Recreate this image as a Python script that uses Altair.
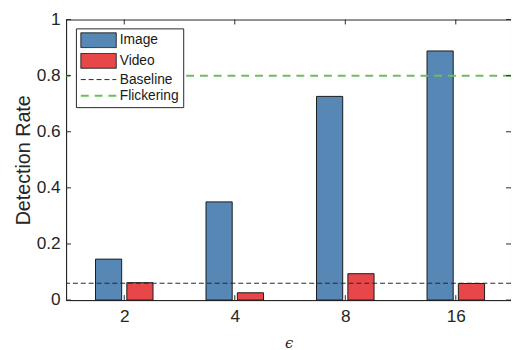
import json
import altair as alt
import pandas as pd

# ---------------- data ----------------
categories = ["2", "4", "8", "16"]
image_rate = [0.146, 0.350, 0.726, 0.888]
video_rate = [0.062, 0.026, 0.094, 0.059]
baseline_rate = [0.06]
flicker_rate = [0.80]
series_names = ["Image", "Video", "Baseline", "Flickering"]
fill_colors = ["#5787B4", "#E8474A", "transparent", "transparent"]
stroke_colors = ["#1a1a1a", "#1a1a1a", "#262626", "#6BBE5E"]
stroke_dashes = [[1, 0], [1, 0], [5, 3], [8, 6]]
stroke_widths = [1, 1, 1, 2]
legend_shapes = ["M-2.4,-1H2.4V1H-2.4Z", "M-2.4,-1H2.4V1H-2.4Z", "M-2.4,0H2.4", "M-2.4,0H2.4"]
y_ticks = [0, 0.2, 0.4, 0.6, 0.8, 1.0]

# ---------------- layout ----------------
W, H = 452, 285
TICK = 5
FONT = "Liberation Sans"
AX = "#262626"
idx = list(range(1, len(categories) + 1))
shift = {"Image": -0.1418, "Video": 0.1418}

bars = pd.DataFrame({
    "idx": idx * 2,
    "eps": categories * 2,
    "rate": image_rate + video_rate,
    "series": ["Image"] * len(categories) + ["Video"] * len(categories),
})
bars["pos"] = bars["idx"] + bars["series"].map(shift)
cat_df = pd.DataFrame({"idx": idx, "series": series_names})
ytick_df = pd.DataFrame({"rate": y_ticks})
base_df = pd.DataFrame({"rate": baseline_rate, "series": ["Baseline"]})
flk_df = pd.DataFrame({"rate": flicker_rate, "series": ["Flickering"]})

xscale = alt.Scale(domain=[0.518, 4.455], nice=False, zero=False)
yscale = alt.Scale(domain=[0, 1], nice=False)
label_expr = json.dumps(categories) + "[datum.value - 1]"

x_axis = alt.Axis(
    orient="bottom", values=idx, labelExpr=label_expr, tickSize=0,
    domain=True, domainColor=AX, grid=False, labelFont=FONT, labelFontSize=17.5,
    labelColor=AX, labelPadding=8, title="ϵ", titleFont="DejaVu Serif",
    titleFontSize=15, titleFontWeight="normal", titleFontStyle="italic",
    titleColor=AX, titlePadding=11)
y_axis = alt.Axis(
    orient="left", values=y_ticks, format="~g", tickSize=0, domain=True,
    domainColor=AX, grid=False, labelFont=FONT, labelFontSize=17.5, labelColor=AX,
    labelPadding=6, title="Detection Rate", titleFont=FONT, titleFontSize=20,
    titleFontWeight="normal", titleColor=AX, titlePadding=3)

legend = alt.Legend(
    orient="none", legendX=10, legendY=9, title=None, direction="vertical",
    strokeColor=AX, fillColor="white", padding=4, cornerRadius=0,
    labelFont=FONT, labelFontSize=14, labelColor="#1a1a1a",
    symbolSize=225, symbolOffset=10.5, labelOffset=13, rowPadding=1,
    symbolOpacity=1,
)
fill = alt.Fill("series:N", scale=alt.Scale(domain=series_names, range=fill_colors), legend=legend)
stroke = alt.Stroke("series:N", scale=alt.Scale(domain=series_names, range=stroke_colors), legend=legend)
dash = alt.StrokeDash("series:N", scale=alt.Scale(domain=series_names, range=stroke_dashes), legend=legend)
swidth = alt.StrokeWidth("series:N", scale=alt.Scale(type="ordinal", domain=series_names, range=stroke_widths), legend=legend)
shape = alt.Shape("series:N", scale=alt.Scale(domain=series_names, range=legend_shapes), legend=legend)


def X(field):
    return alt.X(field, scale=xscale, axis=x_axis)


def Y(field):
    return alt.Y(field, scale=yscale, axis=y_axis)


bar_layer = alt.Chart(bars).mark_bar(size=26.6).encode(
    x=X("pos:Q"), y=Y("rate:Q"),
    fill=fill, stroke=stroke, strokeWidth=swidth,
)

legend_shape_layer = alt.Chart(cat_df).mark_point(opacity=0).encode(
    x=X("idx:Q"), shape=shape,
)

base_layer = alt.Chart(base_df).mark_rule().encode(
    y=Y("rate:Q"), stroke=stroke, strokeDash=dash, strokeWidth=swidth,
)

flk_layer = alt.Chart(flk_df).mark_rule().encode(
    y=Y("rate:Q"), stroke=stroke, strokeDash=dash, strokeWidth=swidth,
)

# inward tick marks on all four sides (MATLAB box style)
tick_rule = dict(color=AX, strokeWidth=1)
left_ticks = alt.Chart(ytick_df).mark_rule(**tick_rule).encode(
    y=Y("rate:Q"), x=alt.value(0), x2=alt.value(TICK))
right_ticks = alt.Chart(ytick_df).mark_rule(**tick_rule).encode(
    y=Y("rate:Q"), x=alt.value(W - TICK), x2=alt.value(W))
bottom_ticks = alt.Chart(cat_df).mark_rule(**tick_rule).encode(
    x=X("idx:Q"), y=alt.value(H - TICK), y2=alt.value(H))
top_ticks = alt.Chart(cat_df).mark_rule(**tick_rule).encode(
    x=X("idx:Q"), y=alt.value(0), y2=alt.value(TICK))

chart = alt.layer(
    bar_layer, base_layer, flk_layer, legend_shape_layer,
    left_ticks, right_ticks, bottom_ticks, top_ticks,
).properties(
    width=W, height=H,
    autosize=alt.AutoSizeParams(type="none"),
    padding={"left": 59, "top": 9, "right": 0, "bottom": 48},
    background="white",
).configure_view(stroke=AX, strokeWidth=1)

chart.save("out.html", embed_options={"renderer": "svg", "actions": False})
